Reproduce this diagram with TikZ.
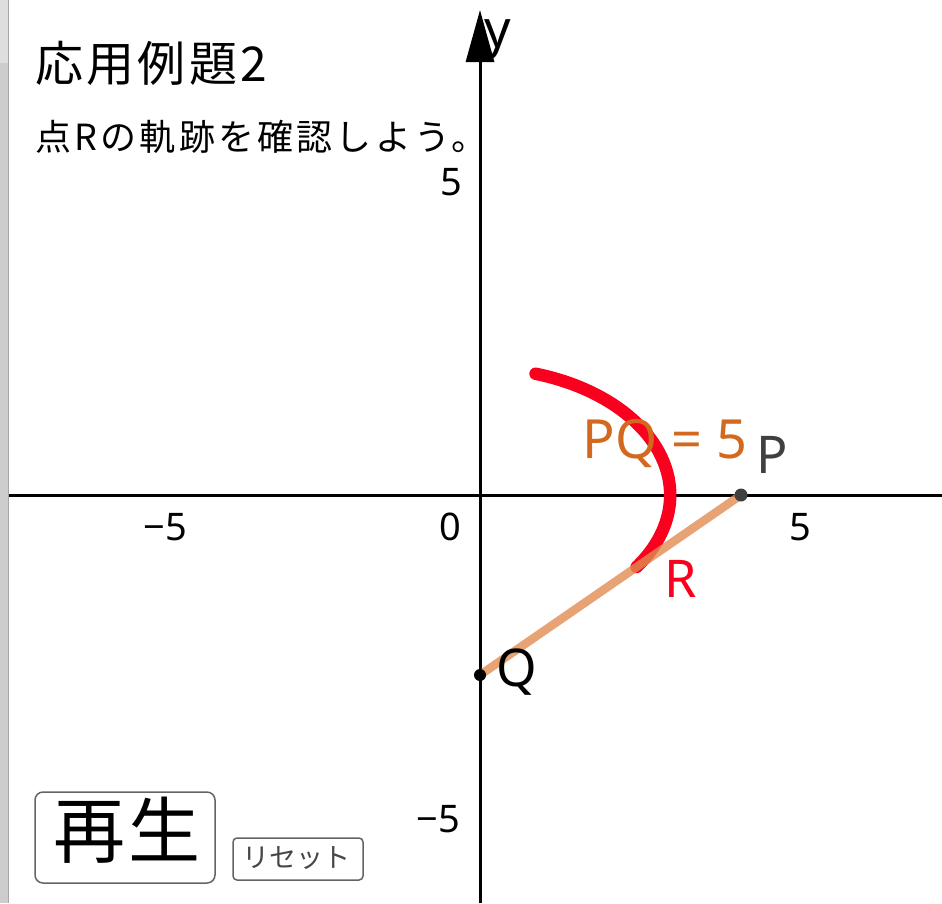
\documentclass[tikz,border=0pt]{standalone}
\usepackage{fontspec}
\setmainfont{Noto Sans}
\newfontfamily\jp{Noto Sans CJK JP}
\newfontfamily\jpwide[LetterSpace=9]{Noto Sans CJK JP}
\newfontfamily\jptitle[LetterSpace=7]{Noto Sans CJK JP}
\newfontfamily\jpbtn[LetterSpace=4]{Noto Sans CJK JP}
\usetikzlibrary{arrows.meta,calc}
\definecolor{arcred}{RGB}{250,0,30}
\definecolor{segor}{RGB}{225,140,80}
\definecolor{pqor}{RGB}{210,105,30}
\definecolor{pgrey}{RGB}{64,64,64}
\definecolor{btnline}{RGB}{100,100,100}
\definecolor{btntext}{RGB}{70,70,70}
\definecolor{stripa}{RGB}{222,222,222}
\definecolor{stripb}{RGB}{205,205,205}
\begin{document}
\begin{tikzpicture}[x=1pt,y=-1pt,
  lbl/.style={inner sep=0pt, anchor=base},
  biglbl/.style={lbl, font=\fontsize{52}{52}\selectfont},
  numlbl/.style={lbl, font=\fontsize{38}{38}\selectfont},
  axisline/.style={line width=3pt, black},
  btnbox/.style={draw=btnline, line width=1.5pt, fill=white},
  jptext/.style={inner sep=0pt, anchor=west, black}]
\useasboundingbox (0,0) rectangle (942,903);
\fill[white] (0,0) rectangle (942,903);
% left window strip
\fill[stripb] (0,0) rectangle (9,903);
\fill[stripa] (0,0) rectangle (8,63);
\draw[gray!70, line width=0.8pt] (8.6,0) -- (8.6,903);
% points
\coordinate (O) at (480,495);
\coordinate (P) at (741,495);
\coordinate (Q) at (480,675);
\coordinate (R) at ($(P)!0.4!(Q)$);
\coordinate (xl) at (9,495);
\coordinate (xr) at (942,495);
\coordinate (yb) at (480,903);
\coordinate (yt) at (480,10);
% axes
\draw[axisline] (xl) -- (xr);
\draw[axisline, -{Triangle[length=52pt,width=28pt]}] (yb) -- (yt);
% locus of R
\draw[arcred, line width=12.5pt, line cap=round]
  plot[domain=73:-34.6, samples=120, smooth] ({480+190.2*cos(\x)},{495-126.8*sin(\x)});
% segment PQ
\draw[segor, opacity=0.8, line width=8.5pt] (Q) -- (P);
\fill[pgrey] (P) circle (6.5pt);
\fill[black] (Q) circle (6pt);
% labels
\node[biglbl, pgrey] (Plbl) at (772,473) {P};
\node[biglbl, arcred] (Rlbl) at (681,597) {R};
\node[biglbl, black] (Qlbl) at (517,686) {Q};
\node[lbl, font=\fontsize{54}{54}\selectfont, pqor] (PQlbl) at (665,458) {PQ = 5};
\node[biglbl, black] (ylbl) at (498,47) {y};
% tick numbers
\node[numlbl] (x5) at (800,540) {5};
\node[numlbl] (xm5) at (165,540) {−5};
\node[numlbl] (x0) at (450,540) {0};
\node[numlbl] (y5) at (451,195) {5};
\node[numlbl] (ym5) at (438,832) {−5};
% texts
\node[jptext, font=\jptitle\fontsize{48}{48}\selectfont] (title) at (35,63) {応用例題2};
\node[jptext, font=\jpwide\fontsize{36}{36}\selectfont] (sub) at (35,137) {点Rの軌跡を確認しよう。};
% buttons
\draw[btnbox, rounded corners=8pt] (35,792) rectangle (215,883);
\node[inner sep=0pt, font=\jpbtn\fontsize{72}{72}\selectfont] (play) at (127,830) {再生};
\draw[btnbox, rounded corners=4pt] (233,838) rectangle (363,880);
\node[inner sep=0pt, font=\jp\fontsize{27}{27}\selectfont, btntext] (reset) at (296,858) {リセット};
\end{tikzpicture}
\end{document}
